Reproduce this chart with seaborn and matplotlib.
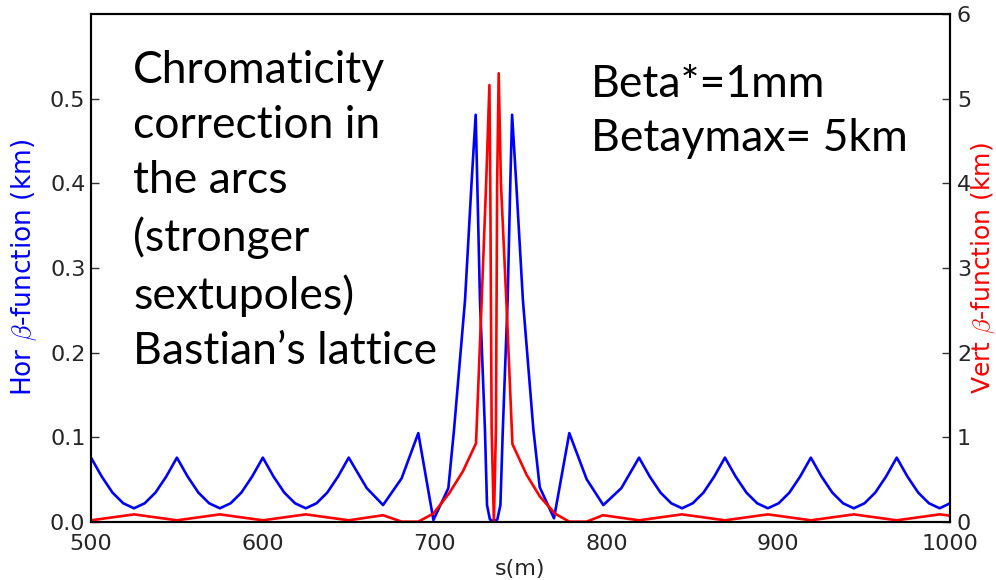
import matplotlib
matplotlib.use("Agg")
import matplotlib.pyplot as plt
import seaborn as sns
import pandas as pd

# ---- data ----
s_hor = [500, 506.25, 512.5, 518.75, 525, 531.25, 537.5, 543.75,
         550, 556.25, 562.5, 568.75, 575, 581.25, 587.5, 593.75,
         600, 606.25, 612.5, 618.75, 625, 631.25, 637.5, 643.75,
         650, 660.5, 670, 680.8, 690.5, 699.3, 708, 711.3, 717.7, 721.6,
         723.9, 724.8, 726.4, 729.3, 730.5, 732.2, 734.4, 736.5, 738.3,
         739.7, 742.5, 744.1, 745.1, 747.4, 751.4, 757.5, 761.2, 769.5,
         778.4, 788.5, 798.2, 808.7, 819,
         825.25, 831.5, 837.75, 844, 850.25, 856.5, 862.75,
         869, 875.25, 881.5, 887.75, 894, 900.25, 906.5, 912.75,
         919, 925.25, 931.5, 937.75, 944, 950.25, 956.5, 962.75,
         969, 975.25, 981.5, 987.75, 994, 1000]
beta_hor = [0.076, 0.0536, 0.0347, 0.0221, 0.0162, 0.0221, 0.0347, 0.0536,
            0.076, 0.0536, 0.0347, 0.0221, 0.0162, 0.0221, 0.0347, 0.0536,
            0.076, 0.0536, 0.0347, 0.0221, 0.0162, 0.0221, 0.0347, 0.0536,
            0.076, 0.040, 0.020, 0.0516, 0.105, 0.0024, 0.040, 0.109, 0.262, 0.404,
            0.481, 0.404, 0.262, 0.109, 0.020, 0.003, 0.001, 0.003, 0.020,
            0.109, 0.262, 0.404, 0.481, 0.404, 0.262, 0.109, 0.041, 0.0044,
            0.105, 0.0505, 0.020, 0.040, 0.076,
            0.0536, 0.0347, 0.0221, 0.0162, 0.0221, 0.0347, 0.0536,
            0.076, 0.0536, 0.0347, 0.0221, 0.0162, 0.0221, 0.0347, 0.0536,
            0.076, 0.0536, 0.0347, 0.0221, 0.0162, 0.0221, 0.0347, 0.0536,
            0.076, 0.0536, 0.0347, 0.0221, 0.0162, 0.0221]

s_vert = [500, 525, 550, 575, 600, 625, 650, 670, 680.8, 690.5, 699.3,
          708.5, 716.5, 724.1, 727.4, 730.0, 731.9, 732.4, 733.2, 734.5,
          735.7, 736.4, 737.3, 738.6, 742.0, 745.3, 753.6, 761.3, 770.0,
          778.4, 788.5, 798.0, 819, 844, 869, 894, 919, 944, 969, 994, 1000]
beta_vert = [0.02, 0.09, 0.02, 0.09, 0.02, 0.09, 0.02, 0.08, 0.004, 0.004, 0.10,
             0.34, 0.60, 0.93, 2.62, 4.0, 5.16, 4.0, 1.1, 0.0,
             1.1, 4.0, 5.30, 4.0, 2.5, 0.92, 0.555, 0.30, 0.10,
             0.004, 0.004, 0.08, 0.02, 0.09, 0.02, 0.09, 0.02, 0.09, 0.02, 0.09, 0.075]

x_ticks = [500, 600, 700, 800, 900, 1000]
left_ticks = [0.0, 0.1, 0.2, 0.3, 0.4, 0.5]
right_ticks = [0, 1, 2, 3, 4, 5, 6]

note_left = "Chromaticity\ncorrection in\nthe arcs\n(stronger\nsextupoles)\nBastian\u2019s lattice"
note_right = "Beta*=1mm\nBetaymax= 5km"

# ---- style ----
sns.set_style("white")
plt.rcParams["font.family"] = ["DejaVu Sans"]
plt.rcParams["mathtext.fontset"] = "cm"
plt.rcParams["xtick.direction"] = "in"
plt.rcParams["ytick.direction"] = "in"

fig = plt.figure(figsize=(9.96, 5.8), dpi=100)
ax = fig.add_axes([0.0914, 0.1, 0.8624, 0.8759])

df_h = pd.DataFrame({"s": s_hor, "b": beta_hor})
df_v = pd.DataFrame({"s": s_vert, "b": beta_vert})

sns.lineplot(data=df_h, x="s", y="b", ax=ax, color="#0000ff", lw=1.9,
             estimator=None, sort=False)
ax.set_xlim(500, 1000)
ax.set_ylim(0, 0.6)
ax.set_xticks(x_ticks)
ax.set_xticklabels([str(t) for t in x_ticks])
ax.set_yticks(left_ticks)
ax.set_yticklabels(["%.1f" % t for t in left_ticks])
ax.set_xlabel("s(m)", fontsize=16, labelpad=3)
ax.set_ylabel(r"Hor $\beta$-function (km)", fontsize=19, color="#0000ff", labelpad=8)
ax.tick_params(axis="x", labelsize=16, length=6, width=1, color="#333333",
               direction="in", pad=9)
ax.tick_params(axis="y", labelsize=16, length=6, width=1, color="#333333",
               direction="in", pad=4)

ax2 = ax.twinx()
sns.lineplot(data=df_v, x="s", y="b", ax=ax2, color="#ff0000", lw=1.9,
             estimator=None, sort=False)
ax2.set_ylim(0, 6)
ax2.set_yticks(right_ticks)
ax2.set_yticklabels([str(t) for t in right_ticks])
ax2.set_ylabel(r"Vert $\beta$-function (km)", fontsize=18, color="#ff0000",
               va="center", rotation=90)
ax2.yaxis.set_label_coords(1.0385, 0.5)
ax2.tick_params(axis="y", labelsize=16, length=6, width=1, color="#333333",
                direction="in", pad=5)
ax2.set_xlim(500, 1000)

for a in (ax, ax2):
    for sp in a.spines.values():
        sp.set_color("black")
        sp.set_linewidth(1.5)

ax.text(0.049, 0.929, note_left, transform=ax.transAxes, fontsize=32,
        family="Lato", va="top", ha="left", linespacing=1.43, color="black")
ax.text(0.582, 0.901, note_right, transform=ax.transAxes, fontsize=32,
        family="Lato", va="top", ha="left", linespacing=1.4, color="black")

fig.savefig("out.png", dpi=100)
